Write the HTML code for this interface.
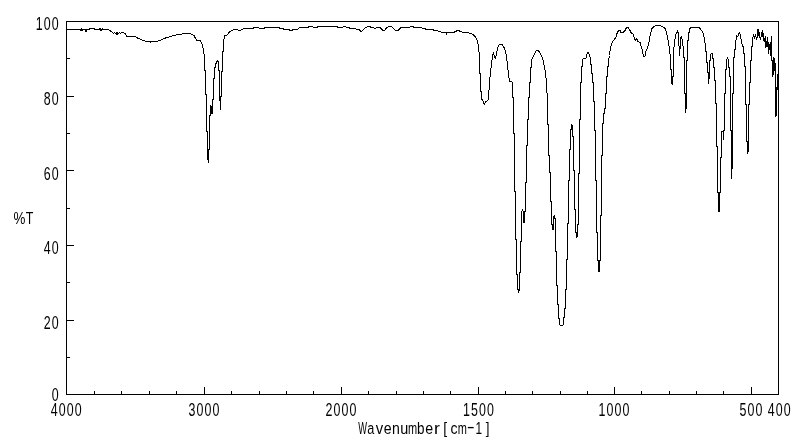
<!DOCTYPE html>
<html><head><meta charset="utf-8"><title>IR spectrum</title>
<style>html,body{margin:0;padding:0;background:#fff;overflow:hidden}svg{display:block}text{fill:#000}</style>
</head><body>
<svg width="800" height="441" viewBox="0 0 800 441">
<rect width="800" height="441" fill="#fff"/>
<g fill="none" stroke="#000" stroke-width="1" shape-rendering="crispEdges">
<rect x="66.5" y="21.5" width="712" height="373"/>
<path d="M204.5,395V387M341.5,395V387M478.5,395V387M614.5,395V387M751.5,395V387M94.5,395V391M121.5,395V391M149.5,395V391M176.5,395V391M231.5,395V391M259.5,395V391M286.5,395V391M313.5,395V391M368.5,395V391M396.5,395V391M423.5,395V391M450.5,395V391M505.5,395V391M532.5,395V391M560.5,395V391M587.5,395V391M641.5,395V391M669.5,395V391M696.5,395V391M723.5,395V391M66,357.5H70M66,320.5H74M66,282.5H70M66,245.5H74M66,208.5H70M66,170.5H74M66,133.5H70M66,96.5H74M66,58.5H70"/>
<polyline points="66.5,29.5 80.5,29.5 81,30.5 81.5,28.5 82.5,30 83,29.5 85,29.5 86,31.5 87,29.5 89.5,29.5 90,28.5 94,28.5 95,29.5 99.5,29.5 100,28.5 101,30.5 102.5,28.5 103,29.5 108,29.5 110,30.5 112.5,32.5 113.5,33.5 114.5,32.5 115.5,33.5 116.5,32.5 117,34.5 117.5,33 118.5,33.5 119.5,32.5 120.5,33.5 121.5,32.5 122.5,32.5 125,33.5 127,36.5 135,36.5 137.5,38 141,39.5 146,41.5 150,41.5 150.3,42.4 150.6,41.5 156,41.5 160,40.5 166,37.75 178.75,34.25 187.5,33.5 190,33.5 191.25,34.25 194,35.5 195,37.4 196.5,40 197,40.5 200.5,40.8 202,44 203.5,50 204.5,58 204.5,70 205.5,70 205.5,94 206.5,94 206.5,131 207.5,131 207.5,159.5 208.5,159.5 208.5,162.5 208.5,149 209.5,149 209.5,115 210.5,115 210.5,106 211.5,107 211.5,113 212.5,113 212.5,99 213.5,99 213.5,78 214.5,78 214.5,67 215.5,67 215.5,63 216.5,63 216.5,62 217.5,61 217.5,60 218.5,62 218.5,70 219.5,70 219.5,100 220.5,100 220.5,109.5 220.5,96 221.5,96 221.5,71 222.5,71 222.5,51 223.5,51 223.5,40 224.5,38 224.5,35.5 227,35 230,31.5 233,30 236,29.5 238,30 241,30 244,28.5 253,28.5 254,27.5 258.75,27.5 259.5,28.5 264,28.5 265,27.5 279,27.5 280,28.5 283,28.5 284,29.5 289,29.5 290,30.5 292.5,30.5 293,29.5 297.5,29.5 298.5,28.5 300,27.5 308,27.5 309,26.5 312.5,26.5 313.5,27.5 317,27.5 318,26.5 337,26.5 338,27.5 342.5,27.5 343.5,26.5 345.5,26.5 346.5,27.5 349,27.5 350,28.5 355.5,28.5 357,29.5 359,29.5 360.5,31 362,31 363.5,29.5 365.5,27.75 367.5,26.5 370,26.5 371,27.5 373,27.5 374.5,28.5 375.5,28.5 376.5,27.5 380,27.5 381.5,29 383,30.5 384.5,30.5 385.5,29 387,27.5 389.5,26.5 391,26.5 393,27.75 394.5,29.5 396,30.5 398,30.5 399.5,29.25 401,27.5 409.5,27.5 410.5,26.5 413,26.5 414,27.5 421,27.5 422.5,28.5 425,28.5 426,29.5 433,29.5 434,30.5 437.5,30.5 438.5,31.5 440.5,31.5 441.5,32.5 446,32.5 446.5,33.5 447,32.5 454,32.5 455,31.5 456,31.5 457,30.5 459,30.5 460,31.5 462,32 467.5,32 469,33 471,33 472.5,34.25 475,36.5 477,40 478,44.25 479,51.75 479.5,55 479.5,73 480.5,73 480.5,91 481.5,91 481.5,98.75 483,101.25 484.4,104.4 485.6,102 488,100.6 488.8,92.5 489.8,78.75 490.8,70 491.8,62 492.5,56 493.5,52.4 494.5,56.75 495.25,58.25 496.25,55.5 497.5,48 498.75,45.25 500.6,44.25 502.5,45 504.4,48 505.6,51.75 506.5,56 507.5,65 508.5,75 509.5,81.5 512,82 512.5,83.75 512.5,97.5 513.5,97.5 513.5,133 514.5,133 514.5,191 515.5,191 515.5,239 516.5,239 516.5,274 517.5,274 517.5,289 518.5,289 518.5,292.5 519.5,289 519.5,272 520.5,272 520.5,241 521.5,241 521.5,212 522.5,210 523.5,212 523.5,222 524.5,222 524.5,211 525.5,211 525.5,182 526.5,182 526.5,145 527.5,145 527.5,119 528.5,119 528.5,97.5 529.5,97.5 529.5,82 530.5,82 530.5,67.5 531.5,67.5 531.5,60 532.75,57.4 534.4,54.25 535.6,51.1 537.5,50.25 539.4,51.75 541,55 542.5,58 543.4,61.75 545,70 546.25,80 547,92.5 547.5,105 547.5,124 548.5,124 548.5,155 549.5,155 549.5,172 550.5,172 550.5,201 551.5,201 551.5,224 552.5,224 552.5,229.5 553.5,229 553.5,217 554.5,215 554.5,218 555.5,218 555.5,251 556.5,251 556.5,285 557.5,285 557.5,304 558.5,304 558.5,318 559.5,318 559.5,324 560.5,325.5 562.5,325.5 563.5,324 563.5,317 564.5,317 564.5,308 565.5,308 565.5,289 566.5,289 566.5,259 567.5,259 567.5,223 568.5,223 568.5,180 569.5,180 569.5,149 570.5,149 570.5,129 571.5,129 571.5,124 572.5,126 572.5,136 573.5,136 573.5,170 574.5,170 574.5,209 575.5,209 575.5,232 576.5,232 576.5,237.5 577.5,236 577.5,224 578.5,224 578.5,173 579.5,173 579.5,119 580.5,119 580.5,82 581.5,82 581.5,66 582.5,66 582.5,60 583.5,58.5 586.25,58 587,54.25 588,52.4 589.4,55 590.5,58 590.5,64 591.5,64 591.5,73 592.5,73 592.5,82 593.5,82 593.5,101 594.5,101 594.5,130 595.5,130 595.5,180 596.5,180 596.5,232 597.5,232 597.5,260 598.5,260 598.5,271.5 599.5,271.5 599.5,260 600.5,260 600.5,215 601.5,215 601.5,155 602.5,155 602.5,123 603.5,123 603.5,113 604.5,113 604.5,108 605.5,108 605.5,93 606.5,93 606.5,76 607.5,76 607.5,66 608.5,66 608.5,60 609.5,55.5 610.4,48 611.5,43.6 613,41 615.6,38 616.9,33.6 618.5,30.5 620,30.5 621.25,33 623,32.75 625,30.5 626.5,27.5 628.5,27.75 630,30.5 631.25,33 633,33.6 634.4,38 635.25,40.25 636.9,38.6 638,41.75 640,42.4 641.25,46.75 642.5,51 643.5,56 645,56 646,51 647.75,47.4 648.75,43.6 649.75,38 650.6,33 651.9,28.6 653.75,26.5 656.25,25.5 660,25.5 662.5,26.5 665,28.25 666.25,31.75 667.5,36.75 668.75,44.25 670,54.25 670.5,55 670.5,69 671.5,69 671.5,83 672.5,84.5 672.5,76 673.5,76 673.5,55 673.75,49.25 674.75,40.5 675.6,34.9 677.5,31.5 678.5,33.6 679,45.5 679.6,56 680.25,45.5 680.6,38 681.5,36.5 682.5,41.75 683.5,50.5 683.5,57.5 684.5,57.5 684.5,93 685.5,93 685.5,112.5 686.5,105 686.5,60.6 687.5,60.6 687.5,40.5 688.5,40.5 688.5,32.4 689.5,32.4 689.5,29.25 690.6,27.5 699.4,27.5 700.6,29.25 702.5,31.75 703.75,35.5 704.75,41.75 705.5,45 705.5,51 706.5,51 706.5,62 707.5,62 707.5,72 708.5,72 708.5,84 709.5,75 709.5,60 710.5,60 710.5,55 711.5,53 712.5,53 712.5,58 713.5,58 713.5,67 714.5,67 714.5,80 715.5,80 715.5,103 716.5,103 716.5,146 717.5,146 717.5,192 718.5,192 718.5,211.5 719.5,211.5 719.5,192 720.5,192 720.5,157 721.5,157 721.5,132 722.5,131 723.5,131 723.5,140 723.5,130 724.5,130 724.5,93 725.5,93 725.5,69 726.5,69 726.5,60 727.5,58 728.5,60 728.5,67 729.5,67 729.5,76 730.5,76 730.5,130 731.5,130 731.5,178.5 731.5,168 732.5,168 732.5,93 733.5,93 733.5,57 734.5,57 734.5,49 735.5,49 735.5,42 736.9,36 737.75,36.75 738.75,33.6 739.6,32.4 740.6,36.75 741.9,43 742.5,46 743.5,46 743.5,53 744.5,53 744.5,66 745.5,66 745.5,104 746.5,104 746.5,141 747.5,141 747.5,153.5 748.5,150 748.5,104 749.5,104 749.5,82 750.5,82 750.5,60 751.5,60 751.5,46 752.5,46 752.5,38.4 753.5,35.2 754.5,37.8 755.5,35 756.5,38.7 757.5,36.5 757.5,29.2 758.5,30 758.5,36 759.5,32 759.5,36 760.5,39.7 761.5,34.3 762.5,30 762.5,37 763.5,33.3 763.5,41 764.5,37.8 764.5,41.6 765.5,36 765.5,48 766.5,41 766.5,46.6 767.5,37 767.5,46.6 768.5,41.6 768.5,54 769.5,44 769.5,50 770.5,42 770.5,55.5 771.5,36 771.5,60.5 772.5,61 772.5,77 773.5,72 773.5,57 774.5,60 774.5,71 775.5,63 775.5,117 776.5,115 776.5,87 777.5,90 777.5,74" stroke-linejoin="miter"/>
</g>
<g>
<text transform="translate(66.75,415.5) scale(0.71,1)" text-anchor="middle" font-size="17.5" letter-spacing="1.54" font-family="Liberation Sans, sans-serif">4000</text>
<text transform="translate(204.55,415.5) scale(0.71,1)" text-anchor="middle" font-size="17.5" letter-spacing="1.54" font-family="Liberation Sans, sans-serif">3000</text>
<text transform="translate(341.55,415.5) scale(0.71,1)" text-anchor="middle" font-size="17.5" letter-spacing="1.54" font-family="Liberation Sans, sans-serif">2000</text>
<text transform="translate(478.95,415.5) scale(0.71,1)" text-anchor="middle" font-size="17.5" letter-spacing="1.54" font-family="Liberation Sans, sans-serif">1500</text>
<text transform="translate(614.55,415.5) scale(0.71,1)" text-anchor="middle" font-size="17.5" letter-spacing="1.54" font-family="Liberation Sans, sans-serif">1000</text>
<text transform="translate(751.55,415.5) scale(0.71,1)" text-anchor="middle" font-size="17.5" letter-spacing="1.54" font-family="Liberation Sans, sans-serif">500</text>
<text transform="translate(779.75,415.5) scale(0.71,1)" text-anchor="middle" font-size="17.5" letter-spacing="1.54" font-family="Liberation Sans, sans-serif">400</text>
<text transform="translate(59.69,401.25) scale(0.71,1)" text-anchor="end" font-size="17.5" letter-spacing="1.54" font-family="Liberation Sans, sans-serif">0</text>
<text transform="translate(59.69,328.8) scale(0.71,1)" text-anchor="end" font-size="17.5" letter-spacing="1.54" font-family="Liberation Sans, sans-serif">20</text>
<text transform="translate(59.69,253.8) scale(0.71,1)" text-anchor="end" font-size="17.5" letter-spacing="1.54" font-family="Liberation Sans, sans-serif">40</text>
<text transform="translate(59.69,179.75) scale(0.71,1)" text-anchor="end" font-size="17.5" letter-spacing="1.54" font-family="Liberation Sans, sans-serif">60</text>
<text transform="translate(59.69,104.75) scale(0.71,1)" text-anchor="end" font-size="17.5" letter-spacing="1.54" font-family="Liberation Sans, sans-serif">80</text>
<text transform="translate(59.69,30) scale(0.71,1)" text-anchor="end" font-size="17.5" letter-spacing="1.54" font-family="Liberation Sans, sans-serif">100</text>
<text y="223.8" font-size="17.2" font-family="Liberation Sans, sans-serif"><tspan x="13.40" textLength="11.89" lengthAdjust="spacingAndGlyphs">%</tspan><tspan x="25.75" textLength="7.61" lengthAdjust="spacingAndGlyphs">T</tspan></text>
<text y="434.4" font-size="16.8" font-family="Liberation Sans, sans-serif"><tspan x="358.35" textLength="8.74" lengthAdjust="spacingAndGlyphs">W</tspan><tspan x="367.24" textLength="7.06" lengthAdjust="spacingAndGlyphs">a</tspan><tspan x="375.65" textLength="7.40" lengthAdjust="spacingAndGlyphs">v</tspan><tspan x="383.68" textLength="7.88" lengthAdjust="spacingAndGlyphs">e</tspan><tspan x="392.00" textLength="7.83" lengthAdjust="spacingAndGlyphs">n</tspan><tspan x="400.28" textLength="8.02" lengthAdjust="spacingAndGlyphs">u</tspan><tspan x="407.99" textLength="9.15" lengthAdjust="spacingAndGlyphs">m</tspan><tspan x="416.94" textLength="7.49" lengthAdjust="spacingAndGlyphs">b</tspan><tspan x="425.18" textLength="7.88" lengthAdjust="spacingAndGlyphs">e</tspan><tspan x="434.09" textLength="5.89" lengthAdjust="spacingAndGlyphs">r</tspan><tspan x="443.37" textLength="3.89" lengthAdjust="spacingAndGlyphs">[</tspan><tspan x="450.39" textLength="7.05" lengthAdjust="spacingAndGlyphs">c</tspan><tspan x="457.79" textLength="9.15" lengthAdjust="spacingAndGlyphs">m</tspan><tspan x="466.69" dy="-2.6" textLength="7.99" lengthAdjust="spacingAndGlyphs">-</tspan><tspan x="475.52" dy="2.6" textLength="6.57" lengthAdjust="spacingAndGlyphs">1</tspan><tspan x="485.85" textLength="3.71" lengthAdjust="spacingAndGlyphs">]</tspan></text>
</g>
</svg>
</body></html>
